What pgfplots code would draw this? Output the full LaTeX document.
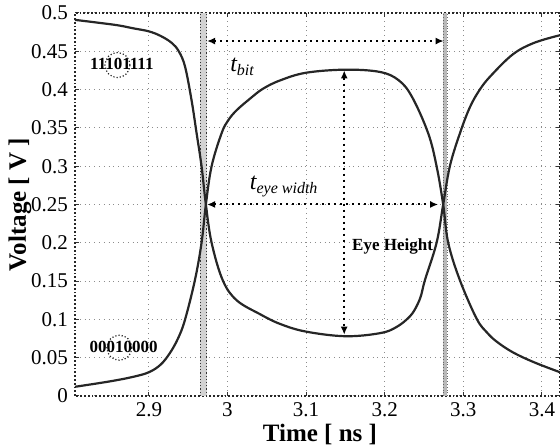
\documentclass[border=0pt]{standalone}
\usepackage{fontspec}
\setmainfont{Liberation Serif}
\usepackage{pgfplots}
\pgfplotsset{compat=1.18}
\usetikzlibrary{arrows.meta,calc}
\begin{document}
\begin{tikzpicture}
\begin{axis}[
  name=ax,
  scale only axis,
  width=242.5pt, height=191.5pt,
  xmin=2.806, xmax=3.423, ymin=0, ymax=0.5,
  xtick={2.9,3.0,3.1,3.2,3.3,3.4},
  xticklabels={2.9,3,3.1,3.2,3.3,3.4},
  ytick={0,0.05,0.1,0.15,0.2,0.25,0.3,0.35,0.4,0.45,0.5},
  yticklabels={0,0.05,0.1,0.15,0.2,0.25,0.3,0.35,0.4,0.45,0.5},
  tick label style={font=\fontsize{10.5}{12}\selectfont},
  /pgf/number format/assume math mode=true,
  grid=major,
  major grid style={dotted, black!45, line width=0.5pt},
  axis line style={densely dotted, black!85, line width=0.9pt},
  tick style={black!80, line width=0.5pt},
  major tick length=2pt,
  tick align=inside,
  xlabel={Time [ ns ]},
  ylabel={Voltage [ V ]},
  label style={font=\fontsize{12.5}{14}\selectfont\bfseries},
  xlabel style={at={(axis description cs:0.505,-0.1018)},anchor=center},
  ylabel style={at={(axis description cs:-0.1134,0.5)},anchor=center},
]
% vertical marker bands
\addplot[fill=gray!35, draw=none] coordinates {(2.9655,0) (2.9735,0) (2.9735,0.5) (2.9655,0.5)} -- cycle;
\addplot[densely dotted, black!80, line width=0.6pt] coordinates {(2.9655,0) (2.9655,0.5)};
\addplot[densely dotted, black!80, line width=0.6pt] coordinates {(2.9735,0) (2.9735,0.5)};
\addplot[fill=gray!55, draw=none] coordinates {(3.2745,0) (3.2795,0) (3.2795,0.5) (3.2745,0.5)} -- cycle;
\addplot[densely dotted, black!60, line width=0.4pt] coordinates {(3.2745,0) (3.2745,0.5)};
\addplot[densely dotted, black!60, line width=0.4pt] coordinates {(3.2795,0) (3.2795,0.5)};
% curve 11101111
\addplot[black!85, line width=1.1pt, smooth, tension=0.6] coordinates {
(2.806,0.491) (2.83,0.488) (2.86,0.484) (2.88,0.480) (2.90,0.476) (2.915,0.470)
(2.929,0.461) (2.938,0.450) (2.946,0.430) (2.9543,0.386) (2.9607,0.343) (2.967,0.300)
(2.9725,0.250) (2.9798,0.200) (2.994,0.151) (3.0116,0.125) (3.041,0.107) (3.067,0.094)
(3.10,0.084) (3.15,0.078) (3.194,0.082) (3.215,0.090) (3.2321,0.104) (3.241,0.118)
(3.2465,0.132) (3.2511,0.151)
(3.266,0.200) (3.2744,0.250) (3.2829,0.300) (3.2957,0.343) (3.3084,0.377) (3.321,0.400)
(3.335,0.418) (3.363,0.446) (3.39,0.461) (3.423,0.471)};
% curve 00010000
\addplot[black!85, line width=1.1pt, smooth, tension=0.6] coordinates {
(2.806,0.012) (2.85,0.019) (2.88,0.025) (2.90,0.031) (2.915,0.041) (2.9267,0.056)
(2.937,0.075) (2.9458,0.099) (2.9585,0.151) (2.967,0.200) (2.9725,0.250) (2.9798,0.300)
(2.9925,0.343) (3.001,0.360)
(3.0116,0.373) (3.0285,0.388) (3.045,0.401) (3.067,0.412) (3.10,0.422) (3.15,0.426) (3.194,0.423)
(3.218,0.412) (3.235,0.390) (3.2553,0.343) (3.266,0.300) (3.2744,0.250) (3.2808,0.200)
(3.2957,0.151) (3.3169,0.101) (3.330,0.083) (3.3424,0.071) (3.363,0.057) (3.39,0.044) (3.423,0.031)};
% arrows
\addplot[black, dotted, line width=1pt, {Latex[length=4pt,width=3.5pt]}-{Latex[length=4pt,width=3.5pt]}] coordinates {(2.974,0.4634) (3.275,0.4634)};
\addplot[black, dotted, line width=1pt, {Latex[length=4pt,width=3.5pt]}-{Latex[length=4pt,width=3.5pt]}] coordinates {(2.974,0.25) (3.268,0.25)};
\addplot[black, dotted, line width=1pt, {Latex[length=4pt,width=3.5pt]}-{Latex[length=4pt,width=3.5pt]}] coordinates {(3.1485,0.425) (3.1485,0.08)};
% labels
\node[font=\fontsize{8.5}{9}\selectfont\bfseries] at (axis cs:2.8656,0.433) {11101111};
\node[circle, draw=black!85, densely dotted, line width=0.6pt, minimum size=12.5pt, inner sep=0pt] at (axis cs:2.8600,0.432) {};
\node[font=\fontsize{8.5}{9}\selectfont\bfseries] at (axis cs:2.868,0.064) {00010000};
\node[circle, draw=black!85, densely dotted, line width=0.6pt, minimum size=12.5pt, inner sep=0pt] at (axis cs:2.8624,0.063) {};
\node[anchor=base west, inner sep=0pt, font=\fontsize{12}{14}\selectfont\itshape] at (axis cs:3.003,0.423) {t\textsubscript{bit}};
\node[anchor=base west, inner sep=0pt, font=\fontsize{12}{14}\selectfont\itshape] at (axis cs:3.028,0.269) {t\textsubscript{eye width}};
\node[font=\fontsize{8.5}{10}\selectfont\bfseries] at (axis cs:3.210,0.195) {Eye Height};
\end{axis}
\pgfresetboundingbox
\path[use as bounding box] ($(ax.south west)+(-37.5pt,-25pt)$) rectangle ($(ax.north east)+(0,6.5pt)$);
\end{tikzpicture}
\end{document}
